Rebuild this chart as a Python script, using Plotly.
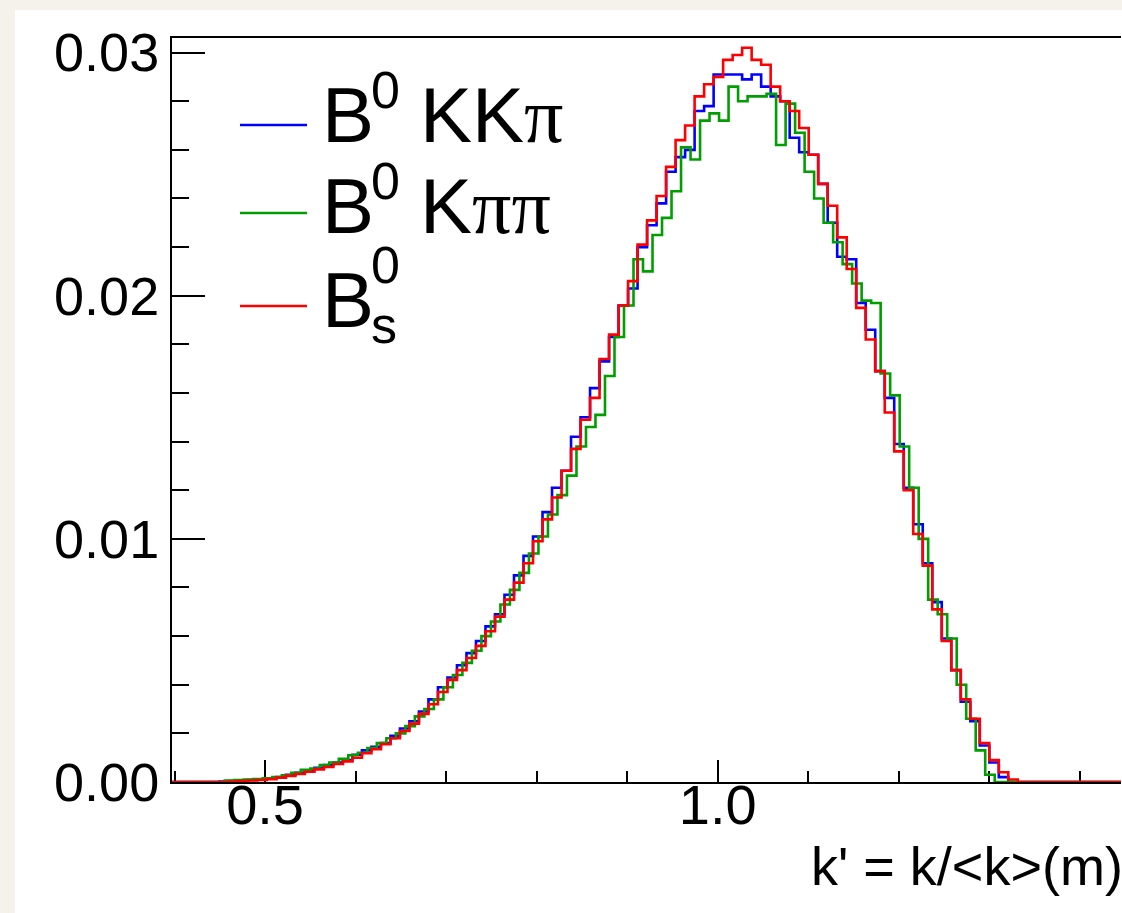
import plotly.graph_objects as go

# ---------------- data ----------------
bin_width = 0.0105
n_bins = 100
start_common = 0.397      # blue and red histograms
start_green = 0.403       # green histogram (slightly shifted binning)

blue_first_bin = 5
blue_vals = [0.00002, 0.00004, 0.00006, 0.00008, 0.0001, 0.00015, 0.0002, 0.0003, 0.00038, 0.00048,
             0.00058, 0.0007, 0.0008, 0.0009, 0.00112, 0.0013, 0.00145, 0.0016, 0.0019, 0.0022,
             0.0025, 0.0029, 0.0034, 0.0039, 0.0043, 0.0048, 0.0053, 0.0058, 0.0064, 0.0069,
             0.0077, 0.0085, 0.0093, 0.0101, 0.0111, 0.0121, 0.0128, 0.0142, 0.0150, 0.0162,
             0.0173, 0.0183, 0.0196, 0.0203, 0.0220, 0.0229, 0.0238, 0.0251, 0.0257, 0.0260,
             0.0276, 0.0278, 0.0291, 0.0291, 0.0291, 0.0289, 0.0291, 0.0286, 0.0282, 0.0280,
             0.0265, 0.0259, 0.0258, 0.0246, 0.0230, 0.0216, 0.0215, 0.0197, 0.0186, 0.0169,
             0.0158, 0.0139, 0.0121, 0.0106, 0.0090, 0.0074, 0.0059, 0.0046, 0.0033, 0.0025,
             0.0015, 0.0008, 0.0002]

red_first_bin = 6
red_vals = [0.00002, 0.00004, 0.00006, 0.00008, 0.00012, 0.00018, 0.00025, 0.00033, 0.00042, 0.00052,
            0.00062, 0.00074, 0.00085, 0.0010, 0.00118, 0.00135, 0.00155, 0.0018, 0.0021, 0.0024,
            0.0028, 0.0032, 0.0037, 0.0042, 0.0046, 0.0051, 0.0056, 0.0062, 0.0068, 0.0075,
            0.0082, 0.0090, 0.0099, 0.0108, 0.0117, 0.0128, 0.0137, 0.0149, 0.0158, 0.0174,
            0.0184, 0.0196, 0.0206, 0.0221, 0.0231, 0.0241, 0.0253, 0.0264, 0.0270, 0.0282,
            0.0287, 0.0290, 0.0297, 0.0299, 0.0302, 0.0297, 0.0295, 0.0286, 0.0280, 0.0276,
            0.0269, 0.0258, 0.0246, 0.0237, 0.0224, 0.0211, 0.0195, 0.0182, 0.0169, 0.0152,
            0.0136, 0.0120, 0.0102, 0.0089, 0.0071, 0.0058, 0.0046, 0.0034, 0.0026, 0.0016,
            0.0009, 0.0004, 0.0001]

green_first_bin = 5
green_vals = [0.00006, 0.00008, 0.0001, 0.00012, 0.00015, 0.0002, 0.00028, 0.00038, 0.0005, 0.00055,
              0.0007, 0.0008, 0.00095, 0.0011, 0.0012, 0.0014, 0.0016, 0.0018, 0.0020, 0.0023,
              0.0027, 0.0030, 0.0034, 0.0039, 0.0044, 0.0049, 0.0054, 0.0060, 0.0066, 0.0073,
              0.0079, 0.0086, 0.0094, 0.0101, 0.0110, 0.0118, 0.0126, 0.0138, 0.0146, 0.0151,
              0.0167, 0.0183, 0.0196, 0.0215, 0.0210, 0.0225, 0.0232, 0.0243, 0.0261, 0.0256,
              0.0272, 0.0275, 0.0272, 0.0286, 0.0280, 0.0282, 0.0282, 0.0283, 0.0262, 0.0279,
              0.0267, 0.0251, 0.0240, 0.0230, 0.0222, 0.0213, 0.0205, 0.0198, 0.0197, 0.0168,
              0.0159, 0.0138, 0.0121, 0.0100, 0.0075, 0.0069, 0.0059, 0.0040, 0.0026, 0.0013,
              0.0003]

series_names = ["B0 KKpi", "B0 Kpipi", "Bs0"]
PI = "<span style=\"font-family:'Liberation Serif', 'DejaVu Serif', serif\">\u03c0</span>"
legend_main = ["KK" + PI, "K" + PI + PI, ""]
x_ticks_major = [0.5, 1.0]
y_ticks_major = [0.00, 0.01, 0.02, 0.03]
x_title = "k' = k/&lt;k&gt;(m)"

# ---------------- styling / layout ----------------
W, H = 1122, 913
L, R, T, B = 172, 1, 38, 131
PW, PH = W - L - R, H - T - B
FONT = "Liberation Sans, Arial, Helvetica, sans-serif"
BLUE, GREEN, RED = "#0000ff", "#009e00", "#ff0000"


def px_x(p):
    return (p - L) / PW


def px_y(p):
    return (H - B - p) / PH


def hist_xy(start, first, vals):
    full = [0.0] * first + list(vals)
    full = full + [0.0] * (n_bins - len(full))
    edges = [start + bin_width * i for i in range(n_bins + 1)]
    return edges, full + [full[-1]]


fig = go.Figure()
for (start, first, vals, col, name) in [
        (start_common, blue_first_bin, blue_vals, BLUE, series_names[0]),
        (start_green, green_first_bin, green_vals, GREEN, series_names[1]),
        (start_common, red_first_bin, red_vals, RED, series_names[2])]:
    xs, ys = hist_xy(start, first, vals)
    fig.add_trace(go.Scatter(x=xs, y=ys, mode="lines", name=name,
                             line=dict(shape="hv", width=2.6, color=col),
                             cliponaxis=False, showlegend=False, hoverinfo="skip"))

x0 = 1.0 - (717.7 - L) / 905.3
x1 = x0 + PW / 905.3

fig.update_layout(
    width=W, height=H,
    margin=dict(l=L, r=R, t=T, b=B, pad=0),
    paper_bgcolor="#f5f1eb",
    plot_bgcolor="white",
    showlegend=False,
    font=dict(family=FONT, color="black"),
    xaxis=dict(range=[x0, x1], showgrid=False, zeroline=False,
               showline=True, linecolor="black", linewidth=2, mirror=True,
               ticks="inside", ticklen=22, tickwidth=2, tickcolor="black",
               tickvals=x_ticks_major, tickformat=".1f",
               tickfont=dict(size=56, family=FONT, color="black"),
               ticklabelstandoff=-27,
               layer="below traces",
               minor=dict(ticks="inside", ticklen=11, tickwidth=2, tickcolor="black",
                          dtick=0.1, tick0=0, showgrid=False)),
    yaxis=dict(range=[0, 0.0306], showgrid=False, zeroline=False,
               showline=True, linecolor="black", linewidth=2, mirror=False,
               ticks="inside", ticklen=33, tickwidth=2, tickcolor="black",
               tickvals=y_ticks_major, tickformat=".2f",
               tickfont=dict(size=54, family=FONT, color="black"),
               layer="below traces",
               minor=dict(ticks="inside", ticklen=17, tickwidth=2, tickcolor="black",
                          dtick=0.002, tick0=0, showgrid=False)),
)

# white page area on the textured background
fig.add_shape(type="rect", xref="paper", yref="paper", layer="below",
              x0=px_x(15), x1=px_x(W + 5), y0=px_y(H + 5), y1=px_y(10),
              fillcolor="white", line=dict(width=0))

# legend (drawn manually, ROOT style)
BIG, SMALL = 78, 52
rows = [(142, 125, BLUE, legend_main[0], False),
        (233, 213, GREEN, legend_main[1], False),
        (327, 306, RED, legend_main[2], True)]


def text_at(txt, x_px, baseline_px, size, anchor="left"):
    # place annotation so that its baseline sits at baseline_px
    bottom = baseline_px + 0.212 * size + 1
    fig.add_annotation(text=txt, xref="paper", yref="paper",
                       x=px_x(x_px), y=px_y(bottom), xanchor=anchor, yanchor="bottom",
                       showarrow=False, borderpad=0,
                       font=dict(size=size, family=FONT, color="black"))


for base, ly, col, rest, sub in rows:
    fig.add_shape(type="line", xref="paper", yref="paper",
                  x0=px_x(240), x1=px_x(307), y0=px_y(ly), y1=px_y(ly),
                  line=dict(color=col, width=2.6))
    text_at("B", 321, base, BIG)
    if sub:
        # stacked super/subscript in one text block: line spacing = 1.3 * 46 ~ 60 px
        fig.add_annotation(text="<span style=\"font-size:%dpx\">0</span><br>"
                                "<span style=\"font-size:%dpx\">s</span>" % (SMALL, SMALL),
                           xref="paper", yref="paper", x=px_x(370),
                           y=px_y(base + 16 + 0.212 * SMALL + 1),
                           xanchor="left", yanchor="bottom", align="left",
                           showarrow=False, borderpad=0,
                           font=dict(size=46, family=FONT, color="black"))
    else:
        text_at("0", 370, base - 34, SMALL)
    if rest:
        text_at(rest, 419, base, BIG)

# x-axis title (ROOT places it right-aligned at axis end)
text_at(x_title, 1124, 885, 54, anchor="right")

fig.write_html("out.html")
